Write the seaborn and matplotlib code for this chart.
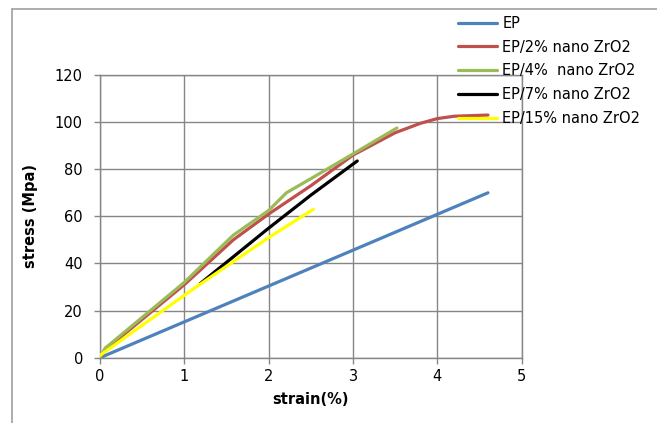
import matplotlib
matplotlib.use("Agg")
import matplotlib.pyplot as plt
import seaborn as sns
import pandas as pd
from matplotlib.lines import Line2D

sns.set_theme(style="white")
plt.rcParams['font.family'] = ['DejaVu Sans']
plt.rcParams['text.color'] = 'black'
plt.rcParams['axes.labelcolor'] = 'black'

# ---- data ----
ep_x = [0.0, 4.6]
ep_y = [0.0, 70.0]

zr2_x = [0.0, 0.05, 1.0, 1.58, 2.0, 2.5, 3.0, 3.5, 3.8, 4.0, 4.2, 4.6]
zr2_y = [0.0, 3.0, 31.0, 50.0, 61.0, 73.0, 86.0, 95.5, 99.5, 101.5, 102.5, 103.0]

zr4_x = [0.0, 0.06, 1.0, 1.58, 2.0, 2.21, 2.5, 3.0, 3.52]
zr4_y = [0.0, 4.0, 32.0, 52.0, 62.5, 70.0, 76.0, 86.5, 97.5]

zr7_x = [1.19, 2.0, 2.5, 3.05]
zr7_y = [31.5, 55.0, 69.0, 83.5]

zr15_x = [0.0, 1.0, 1.2, 2.0, 2.53]
zr15_y = [1.0, 26.5, 31.5, 51.0, 63.0]

labels = ["EP", "EP/2% nano ZrO2", "EP/4%  nano ZrO2", "EP/7% nano ZrO2", "EP/15% nano ZrO2"]
colors = ["#4F81BD", "#C0504D", "#9BBB59", "#000000", "#FFFF00"]
xticks = [0, 1, 2, 3, 4, 5]
yticks = [0, 20, 40, 60, 80, 100, 120]

series = [(ep_x, ep_y), (zr2_x, zr2_y), (zr4_x, zr4_y), (zr7_x, zr7_y), (zr15_x, zr15_y)]

fig = plt.figure(figsize=(6.57, 4.23), dpi=100)
ax = fig.add_axes([100/657, 1-357.7/423, (521.7-100)/657, (357.7-75)/423])

for (xs, ys), lab, col in zip(series, labels, colors):
    df = pd.DataFrame({"strain": xs, "stress": ys})
    sns.lineplot(data=df, x="strain", y="stress", ax=ax, color=col, lw=2.3,
                 sort=False, estimator=None, legend=False, zorder=3)

ax.set_xlim(0, 5)
ax.set_ylim(0, 120)
ax.set_xticks(xticks)
ax.set_yticks(yticks)
ax.grid(True, color="#868686", lw=1.0, zorder=0)
for s in ["left", "bottom", "top", "right"]:
    ax.spines[s].set_visible(True)
    ax.spines[s].set_color("#868686")
    ax.spines[s].set_linewidth(1.0)
ax.tick_params(axis="both", which="major", direction="out", length=4.3, width=1.0,
               color="#868686", labelsize=10.5, labelcolor="black")
ax.tick_params(axis="y", pad=8)
ax.tick_params(axis="x", pad=3.5)
ax.xaxis.set_ticks_position("bottom")
ax.yaxis.set_ticks_position("left")

ax.set_xlabel("strain(%)", fontsize=10.5, fontweight="bold", labelpad=6)
ax.set_ylabel("stress (Mpa)", fontsize=10.5, fontweight="bold", labelpad=12)

handles = [Line2D([0], [0], color=c, lw=2.3) for c in colors]
leg = fig.legend(handles, labels, loc="upper left", bbox_to_anchor=(452/657, 1-10/423),
                 frameon=False, fontsize=10.5, handlelength=2.7, handletextpad=0.35,
                 labelspacing=0.6, borderaxespad=0)

# outer chart frame
fig.add_artist(Line2D([11.5/657, 11.5/657], [0, 1-9/423], transform=fig.transFigure,
                      color="#A0A0A0", lw=1.2))
fig.add_artist(Line2D([11.5/657, 1], [1-9/423, 1-9/423], transform=fig.transFigure,
                      color="#A0A0A0", lw=1.2))

fig.savefig("out.png", dpi=100)
